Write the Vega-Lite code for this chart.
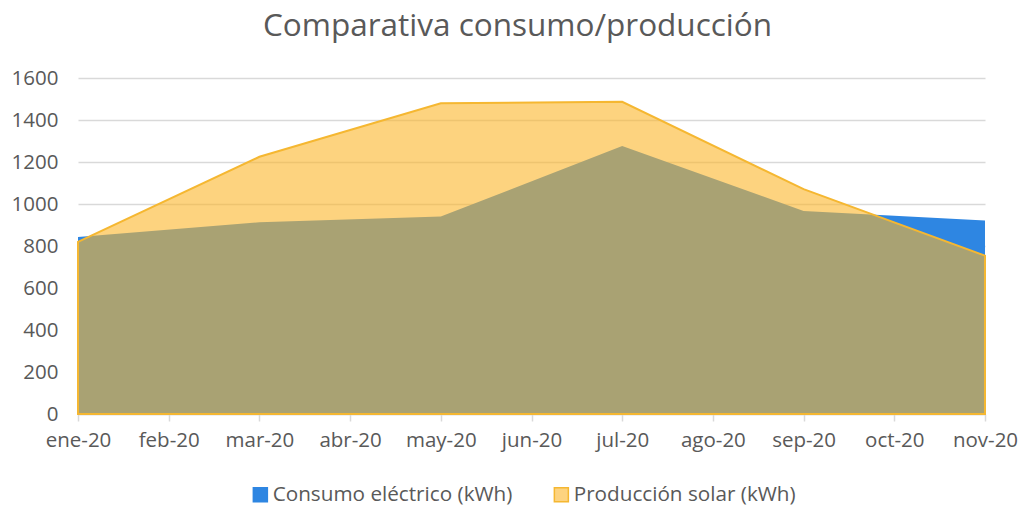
{
  "$schema": "https://vega.github.io/schema/vega-lite/v6.json",
  "width": 907,
  "height": 336,
  "autosize": {"type": "none"},
  "padding": {"left": 78, "top": 78, "right": 39, "bottom": 101},
  "background": "white",
  "config": {
    "font": "Open Sans",
    "view": {"stroke": null},
    "axis": {"labelColor": "#595959", "labelFontSize": 20.5, "labelFont": "Open Sans", "titleColor": "#595959"},
    "legend": {"labelFont": "Open Sans"}
  },
  "title": {
    "text": "Comparativa consumo/producción",
    "fontSize": 31.5,
    "fontWeight": "normal",
    "color": "#595959",
    "font": "Open Sans",
    "anchor": "middle",
    "dx": -14,
    "offset": 26
  },
  "data": {
    "values": [
      {"mes": "ene-20", "serie": "Consumo eléctrico (kWh)", "kwh": 843},
      {"mes": "mar-20", "serie": "Consumo eléctrico (kWh)", "kwh": 913},
      {"mes": "may-20", "serie": "Consumo eléctrico (kWh)", "kwh": 940},
      {"mes": "jul-20", "serie": "Consumo eléctrico (kWh)", "kwh": 1276},
      {"mes": "sep-20", "serie": "Consumo eléctrico (kWh)", "kwh": 967},
      {"mes": "nov-20", "serie": "Consumo eléctrico (kWh)", "kwh": 921},
      {"mes": "ene-20", "serie": "Producción solar (kWh)", "kwh": 820},
      {"mes": "mar-20", "serie": "Producción solar (kWh)", "kwh": 1225},
      {"mes": "may-20", "serie": "Producción solar (kWh)", "kwh": 1480},
      {"mes": "jul-20", "serie": "Producción solar (kWh)", "kwh": 1487},
      {"mes": "sep-20", "serie": "Producción solar (kWh)", "kwh": 1071},
      {"mes": "nov-20", "serie": "Producción solar (kWh)", "kwh": 754}
    ]
  },
  "encoding": {
    "x": {
      "field": "mes",
      "type": "ordinal",
      "sort": null,
      "scale": {"type": "point", "padding": 0, "domain": ["ene-20", "feb-20", "mar-20", "abr-20", "may-20", "jun-20", "jul-20", "ago-20", "sep-20", "oct-20", "nov-20"]},
      "axis": {"title": null, "labelAngle": 0, "domainColor": "#D9D9D9", "domainWidth": 1.5, "tickColor": "#D9D9D9", "tickSize": 7, "tickWidth": 1.5, "labelPadding": 9, "grid": false}
    },
    "y": {
      "field": "kwh",
      "type": "quantitative",
      "stack": null,
      "scale": {"domain": [0, 1600], "nice": false},
      "axis": {"title": null, "format": "d", "values": [0, 200, 400, 600, 800, 1000, 1200, 1400, 1600], "domain": false, "ticks": false, "labelPadding": 20, "gridColor": "#D9D9D9", "gridWidth": 1.5}
    },
    "color": {
      "field": "serie",
      "type": "nominal",
      "scale": {"domain": ["Consumo eléctrico (kWh)", "Producción solar (kWh)"], "range": ["#2E86E2", "#FBB52A"]},
      "legend": {
        "title": null,
        "orient": "none",
        "legendX": 172,
        "legendY": 406,
        "direction": "horizontal",
        "symbolType": "square",
        "symbolSize": 196,
        "labelFontSize": 20.7,
        "labelLimit": 0,
        "labelColor": "#595959",
        "columnPadding": 38,
        "labelOffset": 2,
        "encode": {
          "symbols": {
            "update": {
              "fillOpacity": {"signal": "datum.label === 'Producción solar (kWh)' ? 0.6 : 1"},
              "stroke": {"signal": "datum.label === 'Producción solar (kWh)' ? '#F5B731' : '#2E86E2'"},
              "strokeWidth": {"value": 1.5}
            }
          }
        }
      }
    }
  },
  "layer": [
    {
      "transform": [{"filter": "datum.serie === 'Consumo eléctrico (kWh)'"}],
      "mark": {"type": "area", "fillOpacity": 1}
    },
    {
      "transform": [{"filter": "datum.serie === 'Producción solar (kWh)'"}],
      "mark": {"type": "area", "fillOpacity": 0.6, "stroke": "#F5B731", "strokeWidth": 2, "strokeOpacity": 1}
    }
  ]
}
